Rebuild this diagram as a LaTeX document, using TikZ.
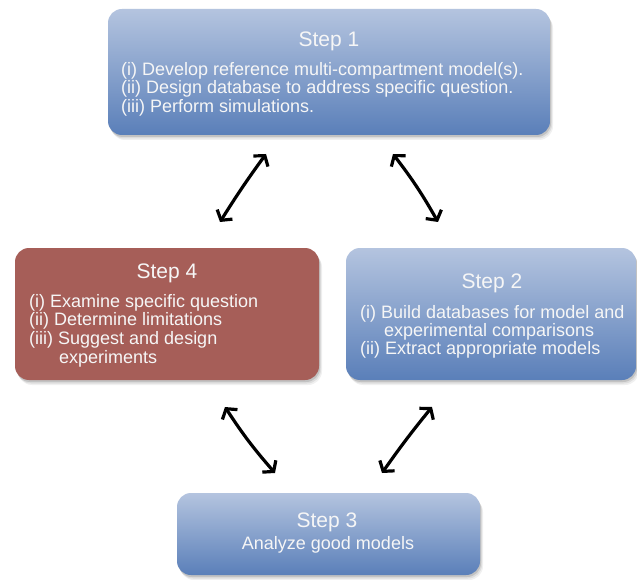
\documentclass[tikz,border=0pt]{standalone}
\usepackage{fontspec}
\setmainfont{Liberation Sans}
\usetikzlibrary{arrows.meta}
\definecolor{bluetop}{RGB}{180,196,223}
\definecolor{bluebot}{RGB}{90,127,185}
\definecolor{redfill}{RGB}{166,94,88}
\definecolor{txtcol}{RGB}{246,246,246}
\tikzset{
  shadowed/.style={
    preaction={fill=black, opacity=0.06, transform canvas={xshift=3pt,yshift=-5pt}},
    preaction={fill=black, opacity=0.08, transform canvas={xshift=2pt,yshift=-3.5pt}},
    preaction={fill=black, opacity=0.12, transform canvas={xshift=1pt,yshift=-2pt}}},
  basebox/.style={rectangle, rounded corners=14pt, inner sep=0pt, outer sep=0pt, shadowed},
  bluebox/.style={basebox, top color=bluetop, bottom color=bluebot, draw=none},
  redbox/.style={basebox, fill=redfill, draw=none},
  titletext/.style={anchor=base, inner sep=0pt, text=txtcol, font=\fontsize{21}{24}\selectfont},
  bodytext/.style={anchor=base west, inner sep=0pt, text=txtcol, font=\fontsize{18}{20}\selectfont},
  dblarrow/.style={line width=3.2pt, line cap=round,
    {Straight Barb[length=7pt,width=18pt,line width=3.2pt]}-{Straight Barb[length=7pt,width=18pt,line width=3.2pt]}}
}
\begin{document}
\begin{tikzpicture}[x=1pt,y=-1pt]
\fill[white] (0,0) rectangle (637,580);
\useasboundingbox (0,0) rectangle (637,580);

% Step 1
\node[bluebox, minimum width=442pt, minimum height=126pt] (s1) at (329,72) {};
\node[titletext] (s1t) at (329,47) {Step 1};
\node[bodytext] (s1a) at (121,76) {(i) Develop reference multi-compartment model(s).};
\node[bodytext] (s1b) at (121,94) {(ii) Design database to address specific question.};
\node[bodytext] (s1c) at (121,112.5) {(iii) Perform simulations.};

% Step 2
\node[bluebox, minimum width=290pt, minimum height=132pt] (s2) at (491,314) {};
\node[titletext] (s2t) at (492,288) {Step 2};
\node[bodytext] (s2a) at (360,318) {(i) Build databases for model and};
\node[bodytext] (s2b) at (384,336) {experimental comparisons};
\node[bodytext] (s2c) at (360,354) {(ii) Extract appropriate models};

% Step 4
\node[redbox, minimum width=304pt, minimum height=132pt] (s4) at (167,314) {};
\node[titletext] (s4t) at (167,278) {Step 4};
\node[bodytext] (s4a) at (29,307) {(i) Examine specific question};
\node[bodytext] (s4b) at (29,325.5) {(ii) Determine limitations};
\node[bodytext] (s4c) at (29,344.5) {(iii) Suggest and design};
\node[bodytext] (s4d) at (59,363.5) {experiments};

% Step 3
\node[bluebox, minimum width=303pt, minimum height=82pt] (s3) at (328.5,534) {};
\node[titletext] (s3t) at (327,527) {Step 3};
\node[bodytext, anchor=base] (s3a) at (328,549) {Analyze good models};

% arrow ends
\coordinate (a1s) at (220,222); \coordinate (a1e) at (266,154);
\coordinate (a2s) at (393,154); \coordinate (a2e) at (438,222);
\coordinate (a3s) at (225,407); \coordinate (a3e) at (275,473);
\coordinate (a4s) at (432,407); \coordinate (a4e) at (382,473);

\draw[dblarrow] (a1s) to[bend left=2] (a1e);
\draw[dblarrow] (a2s) to[bend left=4] (a2e);
\draw[dblarrow] (a3s) to[bend right=4] (a3e);
\draw[dblarrow] (a4s) to[bend right=2] (a4e);
\end{tikzpicture}
\end{document}
